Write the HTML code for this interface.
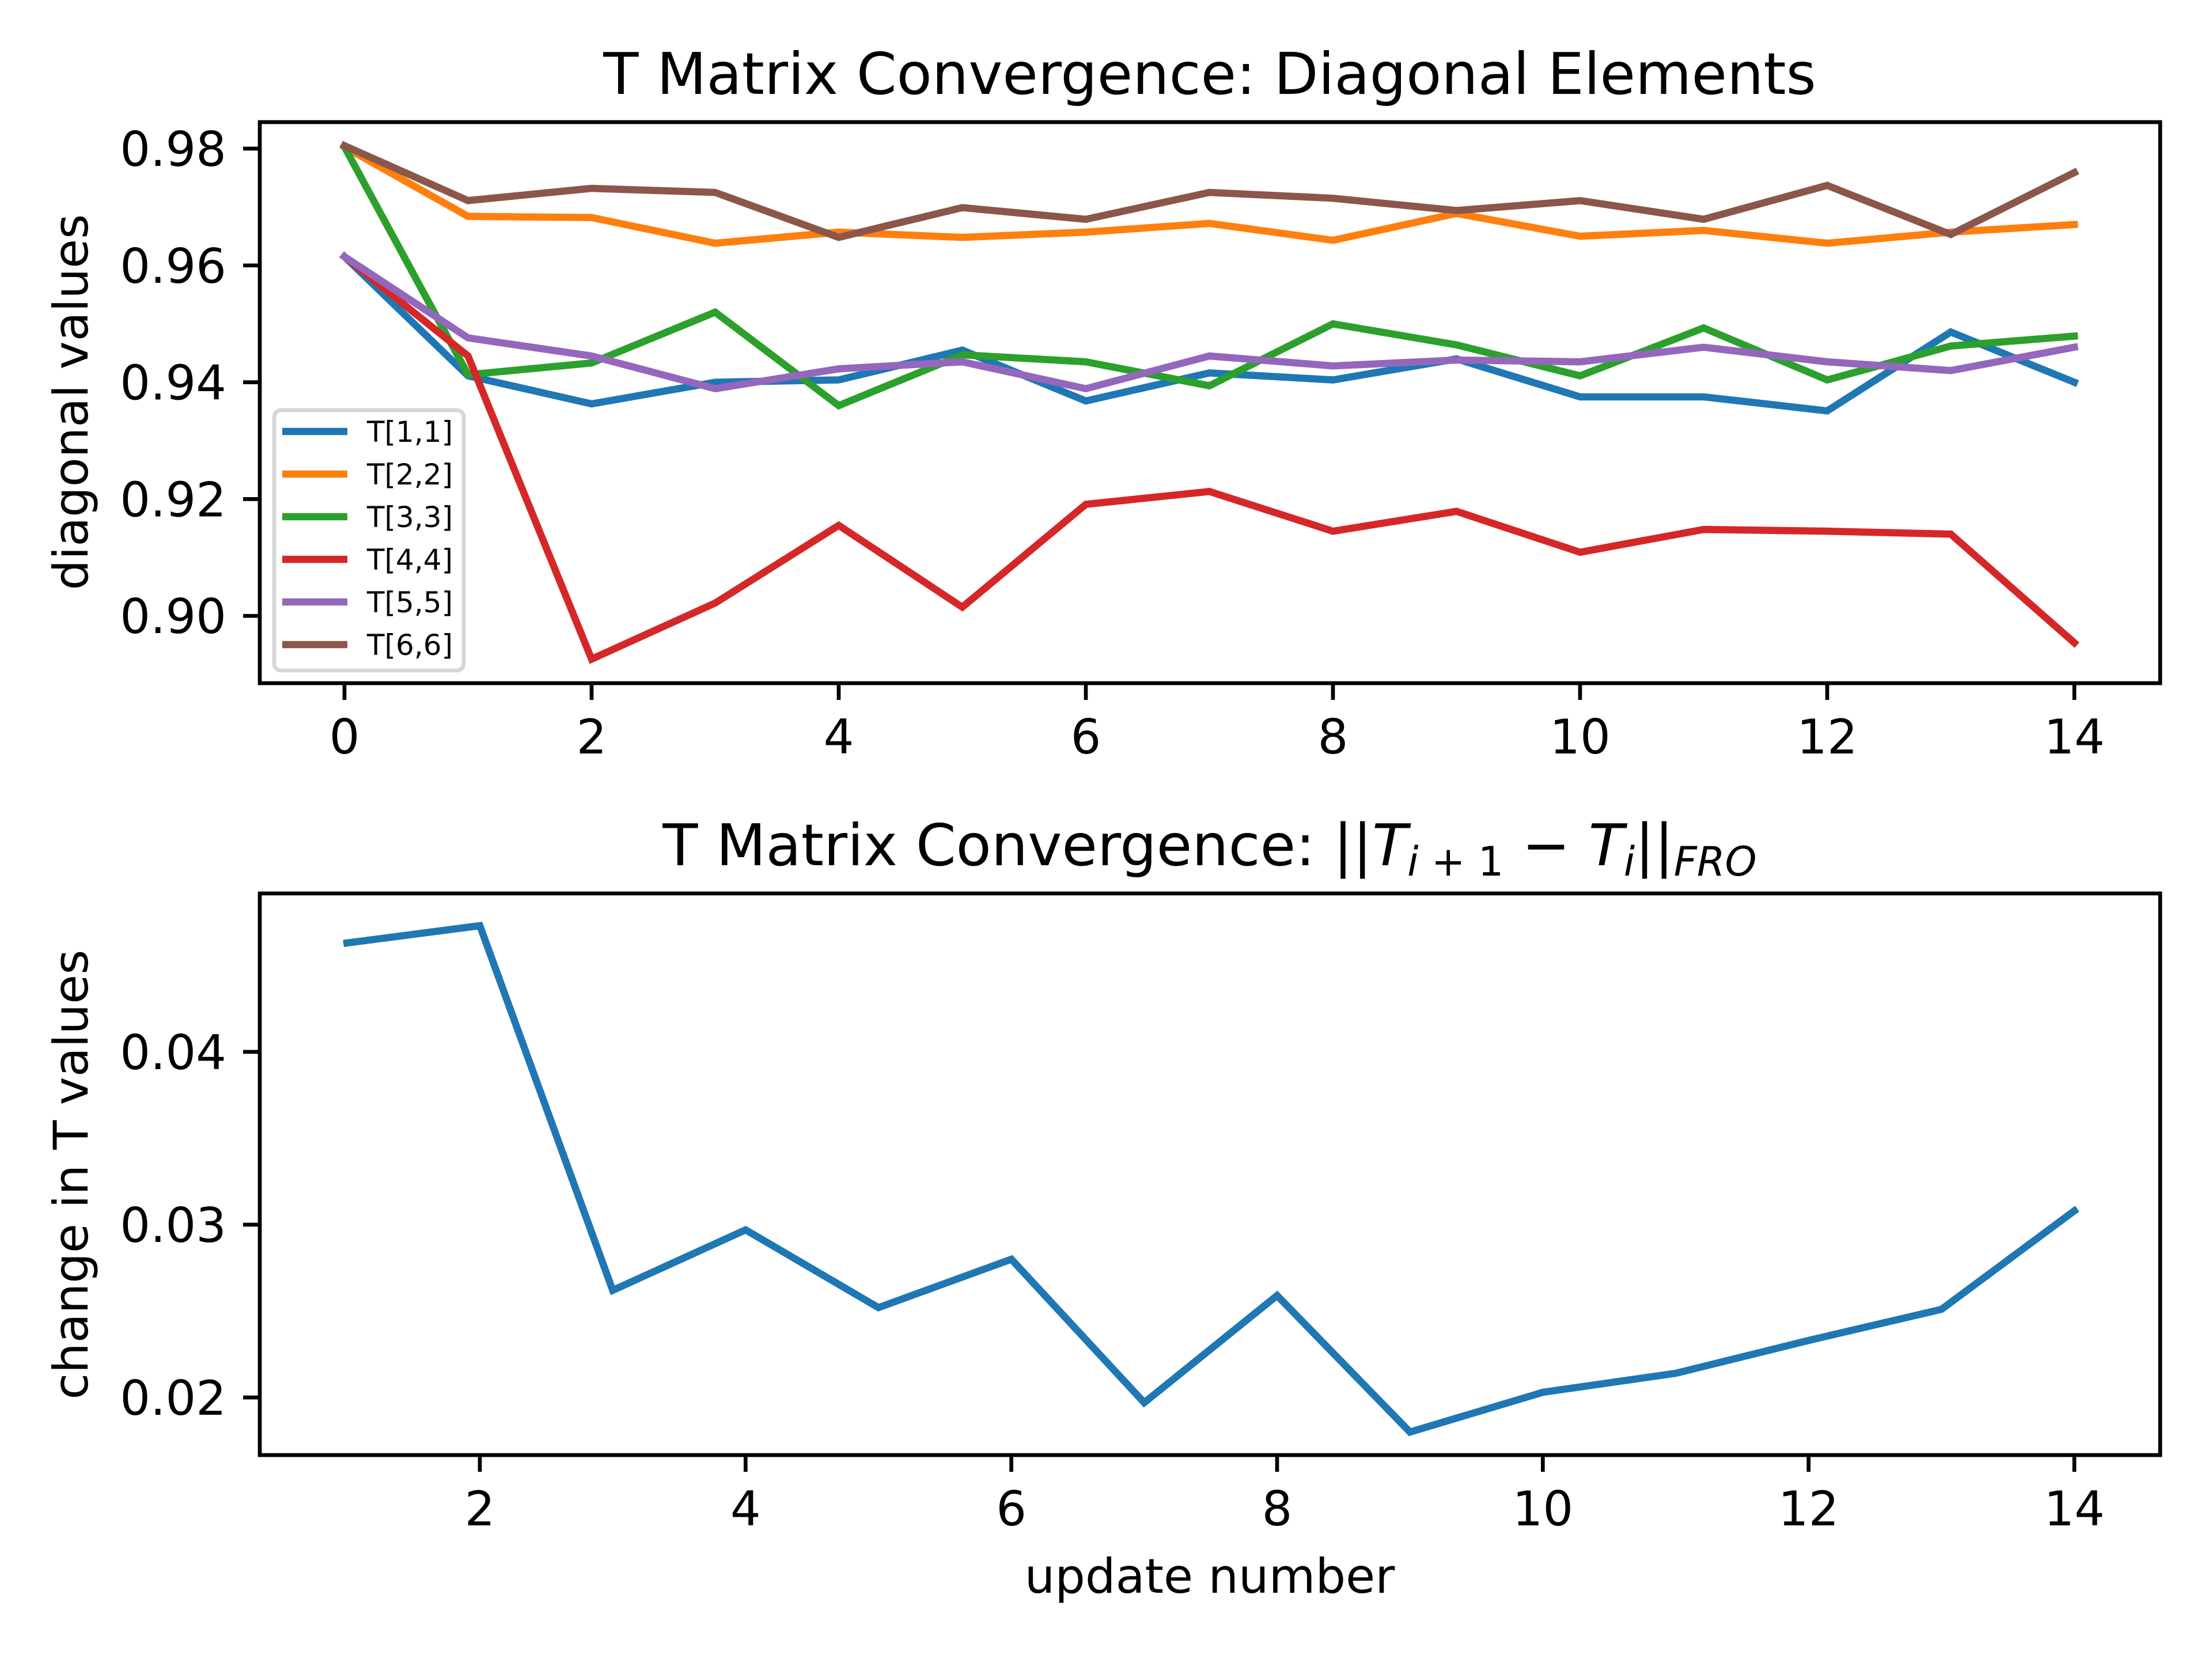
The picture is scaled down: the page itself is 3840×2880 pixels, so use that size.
<!DOCTYPE html>
<html><head><meta charset="utf-8"><style>
html,body{margin:0;padding:0;background:#fff}
svg{display:block}
text{font-family:"DejaVu Sans","Liberation Sans",sans-serif;fill:#000}
</style></head><body>
<svg id="fig" width="3840" height="2880" viewBox="0 0 3840 2880" xmlns="http://www.w3.org/2000/svg">
<rect width="3840" height="2880" fill="#fff"/>
<g id="top"></g>
<g id="bot"></g>
</svg>
<script>
const NS='http://www.w3.org/2000/svg';
const steps=[0,1,2,3,4,5,6,7,8,9,10,11,12,13,14];
const seriesNames=['T[1,1]','T[2,2]','T[3,3]','T[4,4]','T[5,5]','T[6,6]'];
const seriesColors=['#1f77b4','#ff7f0e','#2ca02c','#d62728','#9467bd','#8c564b'];
const t11=[0.9615,0.9411,0.9363,0.9400,0.9404,0.9455,0.9368,0.9416,0.9404,0.9440,0.9375,0.9375,0.9351,0.9486,0.9400];
const t22=[0.9803,0.9684,0.9682,0.9638,0.9657,0.9648,0.9657,0.9672,0.9643,0.9689,0.9650,0.9660,0.9638,0.9657,0.9670];
const t33=[0.9803,0.9413,0.9433,0.9520,0.9360,0.9447,0.9435,0.9394,0.9500,0.9464,0.9411,0.9493,0.9404,0.9462,0.9479];
const t44=[0.9615,0.9445,0.8926,0.9022,0.9155,0.9015,0.9191,0.9213,0.9145,0.9179,0.9109,0.9148,0.9145,0.9140,0.8954];
const t55=[0.9615,0.9476,0.9445,0.9389,0.9423,0.9435,0.9389,0.9445,0.9428,0.9438,0.9435,0.9460,0.9435,0.9420,0.9460];
const t66=[0.9805,0.9711,0.9732,0.9725,0.9648,0.9699,0.9679,0.9725,0.9715,0.9694,0.9711,0.9679,0.9737,0.9653,0.9759];
const topYTicks=[0.90,0.92,0.94,0.96,0.98];
const topXTicks=[0,2,4,6,8,10,12,14];
const updates=[1,2,3,4,5,6,7,8,9,10,11,12,13,14];
const froChange=[0.0463,0.0473,0.0262,0.0297,0.0252,0.0280,0.0197,0.0259,0.0180,0.0203,0.0214,0.0233,0.0251,0.0308];
const botYTicks=[0.02,0.03,0.04];
const botXTicks=[2,4,6,8,10,12,14];

function mk(p,tag,a,txt){const e=document.createElementNS(NS,tag);for(const k in a)e.setAttribute(k,a[k]);if(txt!==undefined)e.textContent=txt;p.appendChild(e);return e;}

// top axes
const T=document.getElementById('top');
const tx=v=>598+(v-0)*(3601-598)/14;
const ty=v=>258+(0.98-v)*10140;
const allSeries=[t11,t22,t33,t44,t55,t66];
allSeries.forEach((s,i)=>{
  const pl=mk(T,'polyline',{points:s.map((v,j)=>tx(steps[j])+','+ty(v)).join(' '),fill:'none',stroke:seriesColors[i],'stroke-width':12.5,'stroke-linejoin':'miter','stroke-linecap':'square'});
  
  
});
const tf=mk(T,'rect',{x:451,y:212,width:3299,height:974,fill:'none',stroke:'#000','stroke-width':6.7});

topYTicks.forEach(v=>{
  const y=ty(v);
  mk(T,'line',{x1:451,x2:422,y1:y,y2:y,stroke:'#000','stroke-width':6.7});
  const l=mk(T,'text',{x:393,y:y+30,'font-size':83,'text-anchor':'end'},v.toFixed(2));
  
});
topXTicks.forEach(v=>{
  const x=tx(v);
  mk(T,'line',{x1:x,x2:x,y1:1186,y2:1215,stroke:'#000','stroke-width':6.7});
  const l=mk(T,'text',{x:x,y:1308,'font-size':83,'text-anchor':'middle'},String(v));
  
});
const tt=mk(T,'text',{x:2100,y:163,'font-size':100,'text-anchor':'middle'},'T Matrix Convergence: Diagonal Elements');

const tyl=mk(T,'text',{x:0,y:0,'font-size':83,'text-anchor':'middle',transform:'translate(152,698) rotate(-90)'},'diagonal values');

// legend
const L=mk(T,'g',{});

mk(L,'rect',{x:476,y:712,width:329,height:452,rx:12,fill:'#fff','fill-opacity':0.8,stroke:'#d6d6d6','stroke-width':6.7});
seriesNames.forEach((n,i)=>{
  const y=749+i*74;
  const g=mk(L,'g',{});
  
  mk(g,'line',{x1:490,x2:603,y1:y,y2:y,stroke:seriesColors[i],'stroke-width':12.5});
  mk(g,'text',{x:637,y:y+18,'font-size':50},n);
});

// bottom axes
const B=document.getElementById('bot');
const bx=v=>833+(v-2)*(3601-833)/12;
const by=v=>2426-(v-0.02)*30000;
const bl=mk(B,'polyline',{points:froChange.map((v,j)=>bx(updates[j])+','+by(v)).join(' '),fill:'none',stroke:'#1f77b4','stroke-width':12.5,'stroke-linecap':'square'});

const bf=mk(B,'rect',{x:451,y:1551,width:3299,height:975,fill:'none',stroke:'#000','stroke-width':6.7});

botYTicks.forEach(v=>{
  const y=by(v);
  mk(B,'line',{x1:451,x2:422,y1:y,y2:y,stroke:'#000','stroke-width':6.7});
  const l=mk(B,'text',{x:393,y:y+30,'font-size':83,'text-anchor':'end'},v.toFixed(2));
  
});
botXTicks.forEach(v=>{
  const x=bx(v);
  mk(B,'line',{x1:x,x2:x,y1:2526,y2:2555,stroke:'#000','stroke-width':6.7});
  const l=mk(B,'text',{x:x,y:2648,'font-size':83,'text-anchor':'middle'},String(v));
  
});
const bt=mk(B,'text',{x:2100,y:1502,'font-size':100,'text-anchor':'middle'});

mk(bt,'tspan',{},'T Matrix Convergence: ||');
mk(bt,'tspan',{'font-style':'italic'},'T');
mk(bt,'tspan',{'font-style':'italic','font-size':70,dy:18},'i');
mk(bt,'tspan',{'font-size':70},' + 1');
mk(bt,'tspan',{dy:-18},' − ');
mk(bt,'tspan',{'font-style':'italic'},'T');
mk(bt,'tspan',{'font-style':'italic','font-size':70,dy:18},'i');
mk(bt,'tspan',{dy:-18},'||');
mk(bt,'tspan',{'font-style':'italic','font-size':70,dy:18},'FRO');
const byl=mk(B,'text',{x:0,y:0,'font-size':83,'text-anchor':'middle',transform:'translate(152,2039) rotate(-90)'},'change in T values');

const bxl=mk(B,'text',{x:2100,y:2765,'font-size':83,'text-anchor':'middle'},'update number');

</script>
</body></html>
